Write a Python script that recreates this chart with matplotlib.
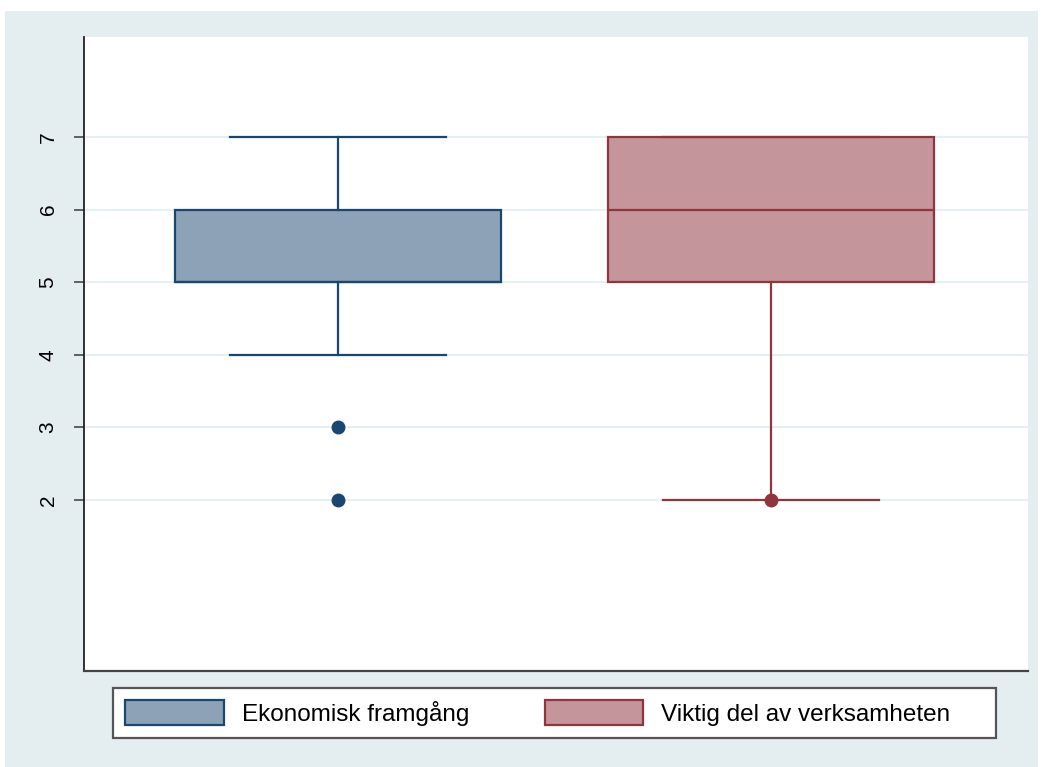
import matplotlib.pyplot as plt
from matplotlib.patches import Rectangle, Patch

# box statistics
groups = ['Ekonomisk framgång', 'Viktig del av verksamheten']
q1 = [5, 5]
med = [5, 6]
q3 = [6, 7]
whislo = [4, 2]
whishi = [7, 7]
fliers = [[3, 2], [2]]
yticks = [2, 3, 4, 5, 6, 7]

edge_cols = ['#1a476f', '#90353b']
fill_cols = ['#8da2b7', '#c4959a']
bg = '#e4edef'

W, H = 1043, 767
fig = plt.figure(figsize=(W / 100, H / 100), dpi=100)
fig.patch.set_facecolor('white')
fig.patches.append(Rectangle((5 / W, 0), 1033 / W, 756 / H,
                             transform=fig.transFigure, facecolor=bg,
                             edgecolor='none', zorder=-10))
# legend frame
fig.patches.append(Rectangle((113 / W, 1 - 738 / H), 883 / W, 50 / H,
                             transform=fig.transFigure, facecolor='white',
                             edgecolor='#555555', linewidth=1.6, zorder=-5))

ax = fig.add_axes([84 / W, 1 - 671 / H, (1028 - 84) / W, (671 - 37) / H])
ax.set_facecolor('white')

for i in range(len(groups)):
    s = dict(q1=q1[i], med=med[i], q3=q3[i], whislo=whislo[i],
             whishi=whishi[i], fliers=fliers[i], label=groups[i])
    ax.bxp([s], positions=[i + 1], widths=0.753, patch_artist=True,
           boxprops=dict(facecolor=fill_cols[i], edgecolor=edge_cols[i], linewidth=1.6),
           medianprops=dict(color=edge_cols[i], linewidth=1.6),
           whiskerprops=dict(color=edge_cols[i], linewidth=1.6),
           capprops=dict(color=edge_cols[i], linewidth=1.6),
           capwidths=0.5,
           flierprops=dict(marker='o', markerfacecolor=edge_cols[i],
                           markeredgecolor=edge_cols[i], markersize=9),
           zorder=3)

ax.set_xlim(0.413, 2.594)
ax.set_ylim(-0.36, 8.38)
ax.set_yticks(yticks)
ax.set_yticklabels([str(t) for t in yticks], rotation=90, va='center',
                   fontsize=15, family='Liberation Sans')
ax.set_xticks([])
ax.yaxis.grid(True, color='#e6eff1', linewidth=1.5, zorder=0)
ax.set_axisbelow(True)
ax.tick_params(axis='y', length=7, width=1.3, color='#555555', pad=12)
for sp in ['top', 'right']:
    ax.spines[sp].set_visible(False)
ax.spines['left'].set_color('#222222')
ax.spines['bottom'].set_color('#444444')
ax.spines['left'].set_linewidth(1.3)
ax.spines['bottom'].set_linewidth(1.6)

handles = [Patch(facecolor=fill_cols[i], edgecolor=edge_cols[i], linewidth=1.6)
           for i in range(len(groups))]
fig.legend(handles, groups, loc='center left',
           bbox_to_anchor=(118 / W, 1 - 713 / H), ncol=2,
           frameon=False, prop={'family': 'Liberation Sans', 'size': 17.5},
           handlelength=4.05, handleheight=1.2, columnspacing=3.1,
           borderpad=0.3, borderaxespad=0, handletextpad=0.75)

fig.savefig('out.png', dpi=100, facecolor=fig.get_facecolor())
